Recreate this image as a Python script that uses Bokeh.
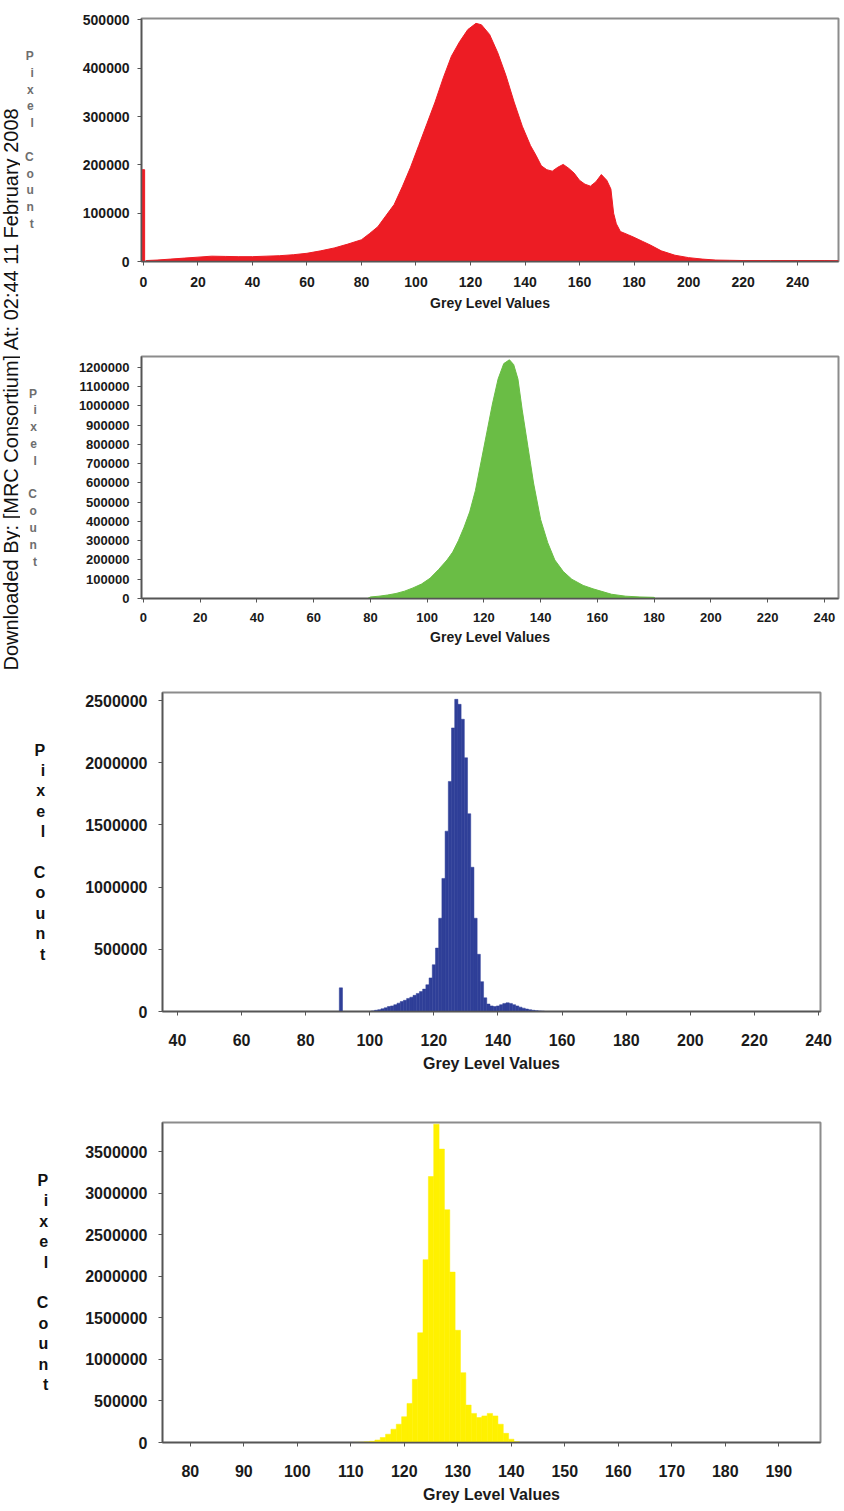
from math import pi
from bokeh.plotting import figure
from bokeh.layouts import column, row
from bokeh.models import Range1d, FixedTicker, BasicTickFormatter
from bokeh.core.properties import value
from bokeh.embed import file_html
from bokeh.resources import INLINE

# ---------------- data ----------------
red_spike_x = [0]
red_spike_y = [190000]
red_x = [1, 5, 10, 15, 20, 25, 30, 35, 40, 45, 50, 55, 60, 65, 70, 75, 80, 83, 86, 89,
         92, 95, 98, 101, 104, 107, 110, 113, 116, 119, 122, 124, 127, 130, 133, 136, 139,
         142, 144, 146, 148, 150, 152, 154, 156, 158, 160, 162, 164, 166, 168, 170, 171.5,
         172.5, 173.5, 175, 178, 180, 183, 186, 190, 195, 200, 205, 210, 215, 220, 230, 240,
         250, 255]
red_y = [2000, 3000, 5000, 7000, 9000, 11000, 10500, 10000, 10000, 11000, 12000, 14000, 17000,
         22000, 28000, 36000, 45000, 58000, 72000, 95000, 118000, 155000, 195000, 240000,
         285000, 330000, 380000, 425000, 455000, 480000, 493000, 490000, 470000, 432000,
         385000, 330000, 280000, 240000, 220000, 198000, 190000, 187000, 195000, 201000,
         193000, 183000, 168000, 160000, 156000, 165000, 180000, 168000, 150000, 100000,
         78000, 62000, 55000, 50000, 42000, 34000, 22000, 13000, 8000, 5000, 3000, 2500,
         2000, 2000, 2000, 2000, 1500]

green_x = [79, 80, 83, 86, 89, 92, 95, 98, 101, 104, 107, 109, 111, 113, 115, 117, 119, 121,
           123, 125, 127, 129, 130.5, 132, 133.5, 135.5, 137.5, 140, 142.5, 145, 148, 151,
           155, 158.5, 165, 170, 175, 180, 180.5]
green_y = [0, 8000, 12000, 18000, 26000, 38000, 55000, 75000, 105000, 150000, 200000, 241000,
           300000, 370000, 450000, 560000, 710000, 860000, 1010000, 1140000, 1220000, 1240000,
           1215000, 1140000, 980000, 790000, 600000, 410000, 290000, 200000, 140000, 100000,
           68000, 50000, 22000, 12000, 8000, 6000, 0]

blue_x = [91, 101, 102, 103, 104, 105, 106, 107, 108, 109, 110, 111, 112, 113, 114, 115, 116,
          117, 118, 119, 120, 121, 122, 123, 124, 125, 126, 127, 128, 129, 130, 131, 132, 133,
          134, 135, 136, 137, 138, 139, 140, 141, 142, 143, 144, 145, 146, 147, 148, 149, 150,
          151, 152, 153, 154]
blue_y = [190000, 5000, 10000, 15000, 22000, 30000, 40000, 45000, 55000, 67000, 80000, 90000,
          105000, 115000, 130000, 145000, 160000, 180000, 215000, 270000, 376000, 510000,
          750000, 1070000, 1450000, 1850000, 2280000, 2510000, 2470000, 2350000, 2040000,
          1590000, 1160000, 750000, 460000, 240000, 110000, 60000, 45000, 40000, 45000, 55000,
          65000, 70000, 65000, 55000, 45000, 35000, 27000, 20000, 15000, 10000, 7000, 5000, 3000]

yellow_x = [111, 112, 113, 114, 115, 116, 117, 118, 119, 120, 121, 122, 123, 124, 125, 126,
            127, 128, 129, 130, 131, 132, 133, 134, 135, 136, 137, 138, 139, 140, 141]
yellow_y = [2000, 4000, 8000, 15000, 30000, 60000, 100000, 160000, 220000, 310000, 470000,
            760000, 1320000, 2200000, 3200000, 3830000, 3530000, 2800000, 2050000, 1350000,
            840000, 450000, 350000, 300000, 320000, 350000, 320000, 220000, 110000, 40000, 10000]

p1_xticks = [0, 20, 40, 60, 80, 100, 120, 140, 160, 180, 200, 220, 240]
p1_yticks = [0, 100000, 200000, 300000, 400000, 500000]
p2_xticks = [0, 20, 40, 60, 80, 100, 120, 140, 160, 180, 200, 220, 240]
p2_yticks = [0, 100000, 200000, 300000, 400000, 500000, 600000, 700000, 800000, 900000,
             1000000, 1100000, 1200000]
p3_xticks = [40, 60, 80, 100, 120, 140, 160, 180, 200, 220, 240]
p3_yticks = [0, 500000, 1000000, 1500000, 2000000, 2500000]
p4_xticks = [80, 90, 100, 110, 120, 130, 140, 150, 160, 170, 180, 190]
p4_yticks = [0, 500000, 1000000, 1500000, 2000000, 2500000, 3000000, 3500000]

x_title = "Grey Level Values"
y_title = "P\ni\nx\ne\nl\n\nC\no\nu\nn\nt"
watermark = "Downloaded By: [MRC Consortium] At: 02:44 11 February 2008"

RED = "#ed1c24"
GREEN = "#6abd45"
BLUE = "#2f3f98"
YELLOW = "#fff100"
FONT = "Liberation Sans"


def make(width, height, xr, yr, bl, br, bt, bb):
    p = figure(width=width, height=height, x_range=Range1d(*xr), y_range=Range1d(*yr),
               toolbar_location=None, output_backend="svg",
               min_border_left=bl, min_border_right=br, min_border_top=bt, min_border_bottom=bb)
    p.background_fill_color = "white"
    p.border_fill_color = "white"
    p.outline_line_color = "#8c8c8c"
    p.outline_line_width = 2
    p.xgrid.visible = False
    p.ygrid.visible = False
    return p


def style(p, xt, yt, tick_px, title_px, pc_px, pc_color, pc_standoff,
          x_lab_standoff, y_lab_standoff, title_standoff):
    p.xaxis.ticker = FixedTicker(ticks=xt)
    p.yaxis.ticker = FixedTicker(ticks=yt)
    p.yaxis.formatter = BasicTickFormatter(use_scientific=False)
    for ax in (p.xaxis, p.yaxis):
        ax.major_label_text_font = FONT
        ax.major_label_text_font_size = tick_px
        ax.major_label_text_font_style = "bold"
        ax.major_label_text_color = "#1a1a1a"
        ax.axis_line_color = "#555555"
        ax.axis_line_width = 1.5
        ax.major_tick_line_color = "#555555"
        ax.major_tick_out = 4
        ax.major_tick_in = 0
        ax.minor_tick_line_color = None
        ax.axis_label_text_font = FONT
    p.xaxis.major_label_standoff = x_lab_standoff
    p.yaxis.major_label_standoff = y_lab_standoff
    p.xaxis.axis_label = x_title
    p.xaxis.axis_label_text_font_size = title_px
    p.xaxis.axis_label_text_font_style = "bold"
    p.xaxis.axis_label_text_color = "#1a1a1a"
    p.xaxis.axis_label_standoff = title_standoff
    p.yaxis.axis_label = y_title
    p.yaxis.axis_label_orientation = "horizontal"
    p.yaxis.axis_label_text_font_size = pc_px
    p.yaxis.axis_label_text_font_style = "bold"
    p.yaxis.axis_label_text_color = pc_color
    p.yaxis.axis_label_standoff = pc_standoff


# ---------------- watermark strip ----------------
wm = figure(width=20, height=673, x_range=Range1d(0, 20), y_range=Range1d(0, 673),
            toolbar_location=None, output_backend="svg", x_axis_type=None, y_axis_type=None,
            min_border=0)
wm.outline_line_color = None
wm.xgrid.visible = False
wm.ygrid.visible = False
wm.text(x=[10], y=[3], text=[watermark], angle=pi / 2, text_align="left",
        text_baseline="middle", text_font=value(FONT), text_font_size="20px",
        text_color="#111111")

# ---------------- panel 1 (red) ----------------
p1 = make(824, 338, (-0.7, 255), (0, 503000), 121, 6, 18, 77)
p1.varea(x=red_x, y1=0, y2=red_y, fill_color=RED)
p1.line(x=red_x, y=red_y, line_color=RED, line_width=1)
p1.vbar(x=red_spike_x, top=red_spike_y, width=0.9, fill_color=RED, line_color=RED)
style(p1, p1_xticks, p1_yticks, "14px", "14px", "12px", "#6e6e6e", 46, 11, 8, 5)

# ---------------- panel 2 (green) ----------------
p2 = make(824, 335, (-0.7, 245), (0, 1257000), 121, 4, 18, 75)
p2.varea(x=green_x, y1=0, y2=green_y, fill_color=GREEN)
p2.line(x=green_x, y=green_y, line_color=GREEN, line_width=1)
style(p2, p2_xticks, p2_yticks, "13px", "14px", "12px", "#6e6e6e", 39, 10, 8, 4)

# ---------------- panel 3 (blue) ----------------
p3 = make(844, 407, (35.35, 240.6), (0, 2565000), 162, 20, 19, 69)
p3.vbar(x=blue_x, top=blue_y, width=1.0, fill_color=BLUE, line_color=BLUE, line_width=0.5)
style(p3, p3_xticks, p3_yticks, "16px", "16px", "16px", "#111111", 37, 18, 11, 6)

# ---------------- panel 4 (yellow) ----------------
p4 = make(844, 429, (74.8, 197.8), (0, 3850000), 155, 24, 42, 67)
p4.vbar(x=yellow_x, top=yellow_y, width=1.0, fill_color=YELLOW, line_color=YELLOW, line_width=0.5)
style(p4, p4_xticks, p4_yticks, "16px", "16px", "16px", "#111111", 34, 18, 11, 6)

layout = column(row(wm, column(p1, p2)), p3, p4)

open("out.html", "w").write(file_html(layout, INLINE))
